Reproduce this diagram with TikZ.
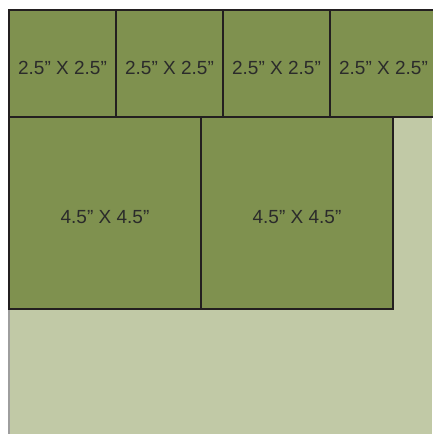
\documentclass[tikz,border=0pt]{standalone}
\usepackage{fontspec}
\setmainfont{Liberation Sans}
\definecolor{tilegreen}{HTML}{7F914F}
\definecolor{boardgreen}{HTML}{C1C9A6}
\definecolor{edge}{HTML}{231F20}
\definecolor{txt}{HTML}{2B2B2B}
\definecolor{rim}{HTML}{9E9E9E}
\begin{document}
\begin{tikzpicture}[x=1pt,y=-1pt,
  tile/.style={draw=edge, fill=tilegreen, line width=2.8pt, inner sep=0pt},
  small/.style={tile, minimum width=107pt, minimum height=107pt},
  big/.style={tile, minimum width=192pt, minimum height=192pt},
  lbl/.style={text=txt, inner sep=0pt, font=\fontsize{19}{21}\selectfont}]
\useasboundingbox (0,0) rectangle (432,434);
\fill[white] (0,0) rectangle (432,434);
\fill[boardgreen] (9,10) rectangle (432,434);
\draw[rim, line width=2.5pt] (9,10) -- (9,434);
\node[small] (s1) at (62.5,63.5) {};
\node[small] (s2) at (169.5,63.5) {};
\node[small] (s3) at (276.5,63.5) {};
\node[small] (s4) at (383.5,63.5) {};
\node[big] (b1) at (105,213) {};
\node[big] (b2) at (297,213) {};
\node[lbl] (l1) at ([yshift=-4pt]s1.center) {2.5” X 2.5”};
\node[lbl] (l2) at ([yshift=-4pt]s2.center) {2.5” X 2.5”};
\node[lbl] (l3) at ([yshift=-4pt]s3.center) {2.5” X 2.5”};
\node[lbl] (l4) at ([yshift=-4pt]s4.center) {2.5” X 2.5”};
\node[lbl] (l5) at ([yshift=-4pt]b1.center) {4.5” X 4.5”};
\node[lbl] (l6) at ([yshift=-4pt]b2.center) {4.5” X 4.5”};
\end{tikzpicture}
\end{document}
